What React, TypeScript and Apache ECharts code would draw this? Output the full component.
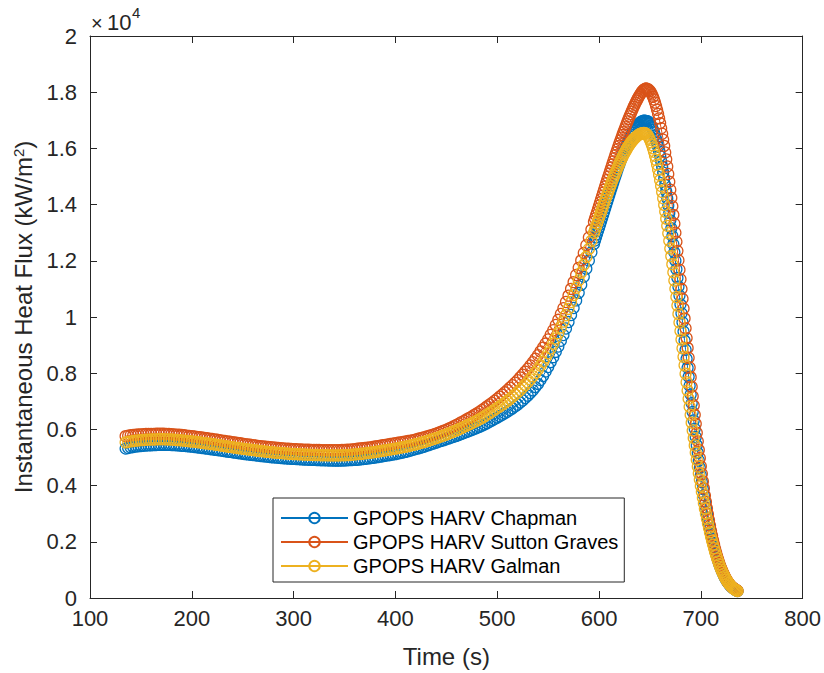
import React, { useEffect, useRef } from "react";
import * as echarts from "echarts";

// Time samples (s): 2.5 s spacing up to 595 s, 1 s spacing afterwards
const timeEarly: number[] = [
  135, 137.5, 140, 142.5, 145, 147.5, 150, 152.5, 155, 157.5,
  160, 162.5, 165, 167.5, 170, 172.5, 175, 177.5, 180, 182.5,
  185, 187.5, 190, 192.5, 195, 197.5, 200, 202.5, 205, 207.5,
  210, 212.5, 215, 217.5, 220, 222.5, 225, 227.5, 230, 232.5,
  235, 237.5, 240, 242.5, 245, 247.5, 250, 252.5, 255, 257.5,
  260, 262.5, 265, 267.5, 270, 272.5, 275, 277.5, 280, 282.5,
  285, 287.5, 290, 292.5, 295, 297.5, 300, 302.5, 305, 307.5,
  310, 312.5, 315, 317.5, 320, 322.5, 325, 327.5, 330, 332.5,
  335, 337.5, 340, 342.5, 345, 347.5, 350, 352.5, 355, 357.5,
  360, 362.5, 365, 367.5, 370, 372.5, 375, 377.5, 380, 382.5,
  385, 387.5, 390, 392.5, 395, 397.5, 400, 402.5, 405, 407.5,
  410, 412.5, 415, 417.5, 420, 422.5, 425, 427.5, 430, 432.5,
  435, 437.5, 440, 442.5, 445, 447.5, 450, 452.5, 455, 457.5,
  460, 462.5, 465, 467.5, 470, 472.5, 475, 477.5, 480, 482.5,
  485, 487.5, 490, 492.5, 495, 497.5, 500, 502.5, 505, 507.5,
  510, 512.5, 515, 517.5, 520, 522.5, 525, 527.5, 530, 532.5,
  535, 537.5, 540, 542.5, 545, 547.5, 550, 552.5, 555, 557.5,
  560, 562.5, 565, 567.5, 570, 572.5, 575, 577.5, 580, 582.5,
  585, 587.5, 590, 592.5, 595,
];
const timeLate: number[] = [
  596, 597, 598, 599, 600, 601, 602, 603, 604, 605,
  606, 607, 608, 609, 610, 611, 612, 613, 614, 615,
  616, 617, 618, 619, 620, 621, 622, 623, 624, 625,
  626, 627, 628, 629, 630, 631, 632, 633, 634, 635,
  636, 637, 638, 639, 640, 641, 642, 643, 644, 645,
  646, 647, 648, 649, 650, 651, 652, 653, 654, 655,
  656, 657, 658, 659, 660, 661, 662, 663, 664, 665,
  666, 667, 668, 669, 670, 671, 672, 673, 674, 675,
  676, 677, 678, 679, 680, 681, 682, 683, 684, 685,
  686, 687, 688, 689, 690, 691, 692, 693, 694, 695,
  696, 697, 698, 699, 700, 701, 702, 703, 704, 705,
  706, 707, 708, 709, 710, 711, 712, 713, 714, 715,
  716, 717, 718, 719, 720, 721, 722, 723, 724, 725,
  726, 727, 728, 729, 730, 731, 732, 733, 734, 735,
  736,
];

// Instantaneous heat flux (kW/m^2), GPOPS HARV Chapman
const chapmanEarly: number[] = [
  5320, 5340, 5360, 5375, 5390, 5400, 5410, 5418, 5425, 5430,
  5435, 5440, 5445, 5448, 5450, 5450, 5450, 5448, 5445, 5440,
  5435, 5428, 5420, 5412, 5405, 5395, 5385, 5375, 5365, 5352,
  5340, 5328, 5315, 5302, 5290, 5278, 5265, 5252, 5240, 5225,
  5210, 5198, 5185, 5172, 5160, 5148, 5135, 5122, 5110, 5100,
  5090, 5078, 5065, 5055, 5045, 5035, 5025, 5015, 5005, 4998,
  4990, 4982, 4975, 4968, 4960, 4955, 4950, 4945, 4940, 4935,
  4930, 4925, 4920, 4918, 4915, 4910, 4905, 4902, 4900, 4898,
  4895, 4892, 4890, 4890, 4890, 4892, 4895, 4900, 4905, 4910,
  4915, 4922, 4930, 4940, 4950, 4962, 4975, 4988, 5000, 5015,
  5030, 5045, 5060, 5075, 5090, 5105, 5120, 5140, 5160, 5180,
  5200, 5225, 5250, 5275, 5300, 5325, 5350, 5380, 5410, 5440,
  5470, 5500, 5530, 5560, 5590, 5620, 5650, 5680, 5710, 5740,
  5770, 5805, 5840, 5875, 5910, 5945, 5980, 6015, 6050, 6090,
  6130, 6175, 6220, 6270, 6320, 6370, 6420, 6470, 6520, 6575,
  6630, 6690, 6750, 6815, 6880, 6955, 7030, 7115, 7200, 7295,
  7390, 7505, 7620, 7760, 7900, 8060, 8220, 8395, 8570, 8760,
  8950, 9155, 9360, 9590, 9820, 10070, 10320, 10590, 10860, 11145,
  11430, 11720, 12010, 12305, 12600,
];
const chapmanLate: number[] = [
  12720, 12835, 12950, 13065, 13180, 13295, 13410, 13525, 13640, 13755,
  13870, 13985, 14100, 14215, 14330, 14445, 14560, 14675, 14790, 14900,
  15010, 15120, 15230, 15335, 15440, 15540, 15640, 15735, 15830, 15920,
  16010, 16095, 16180, 16260, 16340, 16415, 16490, 16555, 16620, 16680,
  16740, 16790, 16840, 16875, 16910, 16935, 16960, 16975, 16985, 16985,
  16980, 16970, 16960, 16920, 16880, 16815, 16750, 16660, 16570, 16455,
  16340, 16200, 16060, 15895, 15730, 15540, 15350, 15140, 14930, 14700,
  14470, 14220, 13970, 13705, 13440, 13160, 12880, 12590, 12300, 12000,
  11700, 11390, 11080, 10765, 10450, 10130, 9810, 9485, 9160, 8835,
  8510, 8190, 7870, 7555, 7240, 6930, 6620, 6320, 6020, 5730,
  5440, 5165, 4890, 4630, 4370, 4125, 3880, 3655, 3430, 3220,
  3010, 2820, 2630, 2455, 2280, 2120, 1960, 1820, 1680, 1555,
  1430, 1320, 1210, 1115, 1020, 935, 850, 775, 700, 640,
  580, 530, 480, 440, 400, 370, 340, 315, 290, 270,
  250,
];

// GPOPS HARV Sutton Graves
const suttonGravesEarly: number[] = [
  5760, 5775, 5790, 5800, 5810, 5818, 5825, 5830, 5835, 5838,
  5840, 5842, 5845, 5845, 5845, 5843, 5840, 5835, 5830, 5822,
  5815, 5808, 5800, 5790, 5780, 5770, 5760, 5748, 5735, 5722,
  5710, 5698, 5685, 5672, 5660, 5645, 5630, 5615, 5600, 5588,
  5575, 5560, 5545, 5532, 5520, 5505, 5490, 5478, 5465, 5452,
  5440, 5428, 5415, 5405, 5395, 5385, 5375, 5365, 5355, 5348,
  5340, 5332, 5325, 5318, 5310, 5305, 5300, 5295, 5290, 5285,
  5280, 5278, 5275, 5272, 5270, 5268, 5265, 5262, 5260, 5260,
  5260, 5260, 5260, 5260, 5260, 5265, 5270, 5275, 5280, 5290,
  5300, 5310, 5320, 5330, 5340, 5350, 5360, 5375, 5390, 5405,
  5420, 5435, 5450, 5465, 5480, 5495, 5510, 5525, 5540, 5555,
  5570, 5585, 5600, 5620, 5640, 5665, 5690, 5715, 5740, 5765,
  5790, 5820, 5850, 5885, 5920, 5955, 5990, 6030, 6070, 6115,
  6160, 6210, 6260, 6310, 6360, 6410, 6460, 6515, 6570, 6630,
  6690, 6755, 6820, 6885, 6950, 7020, 7090, 7165, 7240, 7320,
  7400, 7485, 7570, 7660, 7750, 7850, 7950, 8055, 8160, 8275,
  8390, 8515, 8640, 8775, 8910, 9055, 9200, 9365, 9530, 9715,
  9900, 10105, 10310, 10535, 10760, 11000, 11240, 11495, 11750, 12015,
  12280, 12555, 12830, 13110, 13390,
];
const suttonGravesLate: number[] = [
  13505, 13620, 13730, 13845, 13960, 14075, 14190, 14305, 14420, 14535,
  14650, 14765, 14880, 14990, 15100, 15210, 15320, 15430, 15540, 15650,
  15760, 15865, 15970, 16075, 16180, 16280, 16380, 16480, 16580, 16675,
  16770, 16865, 16960, 17050, 17140, 17225, 17310, 17395, 17480, 17555,
  17630, 17700, 17770, 17835, 17900, 17955, 18010, 18050, 18090, 18115,
  18130, 18125, 18110, 18080, 18040, 17985, 17920, 17835, 17740, 17630,
  17510, 17375, 17230, 17070, 16900, 16715, 16520, 16310, 16090, 15855,
  15610, 15355, 15090, 14815, 14530, 14240, 13940, 13635, 13320, 13000,
  12680, 12350, 12020, 11680, 11340, 10995, 10650, 10300, 9950, 9600,
  9250, 8900, 8550, 8205, 7860, 7520, 7180, 6850, 6520, 6200,
  5880, 5575, 5270, 4980, 4690, 4420, 4150, 3900, 3650, 3420,
  3190, 2980, 2770, 2580, 2390, 2220, 2050, 1900, 1750, 1615,
  1480, 1365, 1250, 1150, 1050, 965, 880, 805, 730, 665,
  600, 550, 500, 455, 410, 380, 350, 325, 300, 280,
  260,
];

// GPOPS HARV Galman
const galmanEarly: number[] = [
  5540, 5558, 5575, 5588, 5600, 5610, 5620, 5625, 5630, 5635,
  5640, 5642, 5645, 5648, 5650, 5648, 5645, 5642, 5640, 5632,
  5625, 5618, 5610, 5600, 5590, 5580, 5570, 5560, 5550, 5538,
  5525, 5512, 5500, 5488, 5475, 5462, 5450, 5435, 5420, 5405,
  5390, 5378, 5365, 5352, 5340, 5325, 5310, 5300, 5290, 5278,
  5265, 5252, 5240, 5230, 5220, 5210, 5200, 5190, 5180, 5172,
  5165, 5158, 5150, 5142, 5135, 5130, 5125, 5120, 5115, 5110,
  5105, 5102, 5100, 5095, 5090, 5088, 5085, 5082, 5080, 5078,
  5075, 5075, 5075, 5075, 5075, 5078, 5080, 5085, 5090, 5100,
  5110, 5118, 5125, 5135, 5145, 5158, 5170, 5182, 5195, 5210,
  5225, 5240, 5255, 5270, 5285, 5300, 5315, 5332, 5350, 5368,
  5385, 5405, 5425, 5448, 5470, 5495, 5520, 5548, 5575, 5602,
  5630, 5660, 5690, 5722, 5755, 5788, 5820, 5855, 5890, 5928,
  5965, 6008, 6050, 6092, 6135, 6178, 6220, 6265, 6310, 6360,
  6410, 6465, 6520, 6578, 6635, 6698, 6760, 6820, 6880, 6948,
  7015, 7088, 7160, 7238, 7315, 7402, 7490, 7585, 7680, 7785,
  7890, 8010, 8130, 8268, 8405, 8558, 8710, 8880, 9050, 9238,
  9425, 9630, 9835, 10062, 10290, 10535, 10780, 11042, 11305, 11580,
  11855, 12138, 12420, 12708, 12995,
];
const galmanLate: number[] = [
  13105, 13215, 13320, 13425, 13530, 13635, 13740, 13845, 13950, 14055,
  14160, 14260, 14360, 14460, 14560, 14655, 14750, 14845, 14940, 15030,
  15120, 15205, 15290, 15375, 15460, 15540, 15620, 15695, 15770, 15835,
  15900, 15965, 16030, 16085, 16140, 16190, 16240, 16285, 16330, 16365,
  16400, 16430, 16460, 16485, 16510, 16525, 16540, 16545, 16550, 16545,
  16530, 16495, 16450, 16385, 16310, 16220, 16120, 16005, 15880, 15740,
  15590, 15425, 15250, 15065, 14870, 14665, 14450, 14225, 13990, 13750,
  13500, 13245, 12980, 12715, 12440, 12165, 11880, 11595, 11300, 11005,
  10710, 10410, 10110, 9805, 9500, 9195, 8890, 8585, 8280, 7980,
  7680, 7385, 7090, 6805, 6520, 6240, 5960, 5695, 5430, 5175,
  4920, 4680, 4440, 4215, 3990, 3780, 3570, 3375, 3180, 3000,
  2820, 2655, 2490, 2335, 2180, 2040, 1900, 1770, 1640, 1525,
  1410, 1305, 1200, 1105, 1010, 930, 850, 780, 710, 650,
  590, 540, 490, 450, 410, 375, 340, 315, 290, 270,
  250,
];

const seriesNames: string[] = ["GPOPS HARV Chapman", "GPOPS HARV Sutton Graves", "GPOPS HARV Galman"];
const seriesColors: string[] = ["#0072BD", "#D95319", "#EDB120"];

const xTitle = "Time (s)";
const yTitleRich = "{a|Instantaneous Heat Flux (kW/m}{s|2}{a|)}";

export default function App() {
  const ref = useRef<HTMLDivElement>(null);

  useEffect(() => {
    document.body.style.margin = "0";
    const chart = echarts.init(ref.current as HTMLDivElement, null, { renderer: "svg" });
    const font = "'Liberation Sans', Arial, Helvetica, sans-serif";
    const ink = "#262626";
    const time = timeEarly.concat(timeLate);
    const allValues = [
      chapmanEarly.concat(chapmanLate),
      suttonGravesEarly.concat(suttonGravesLate),
      galmanEarly.concat(galmanLate),
    ];

    const series = allValues.map((vals, i) => ({
      type: "line",
      name: seriesNames[i],
      data: time.map((t, k) => [t, vals[k]]),
      symbol: "circle",
      symbolSize: 11,
      showSymbol: true,
      showAllSymbol: true,
      lineStyle: { color: seriesColors[i], width: 1 },
      itemStyle: { color: "rgba(255,255,255,0)", borderColor: seriesColors[i], borderWidth: 1.25 },
      emphasis: { disabled: true },
      silent: true,
      xAxisIndex: 0,
      yAxisIndex: 0,
    }));

    const axisBase = {
      type: "value",
      axisLine: { show: true, onZero: false, lineStyle: { color: ink, width: 1 } },
      axisTick: { show: true, inside: true, length: 7, lineStyle: { color: ink, width: 1 } },
      splitLine: { show: false },
    };

    chart.setOption({
      animation: false,
      backgroundColor: "#ffffff",
      textStyle: { fontFamily: font },
      grid: { left: 90, right: 21, top: 36, bottom: 73, containLabel: false },
      xAxis: [
        {
          ...axisBase,
          position: "bottom",
          min: 100,
          max: 800,
          interval: 100,
          name: xTitle,
          nameLocation: "middle",
          nameGap: 46,
          nameTextStyle: { fontSize: 24, color: ink, fontFamily: font },
          axisLabel: { show: true, fontSize: 22, color: ink, margin: 9, fontFamily: font },
        },
        {
          ...axisBase,
          position: "top",
          min: 100,
          max: 800,
          interval: 100,
          axisLabel: { show: false },
        },
      ],
      yAxis: [
        {
          ...axisBase,
          position: "left",
          min: 0,
          max: 20000,
          interval: 2000,
          name: yTitleRich,
          nameLocation: "middle",
          nameGap: 48,
          nameTextStyle: {
            fontSize: 24,
            color: ink,
            fontFamily: font,
            rich: {
              a: { fontSize: 24, color: ink, fontFamily: font, lineHeight: 26 },
              s: { fontSize: 15, color: ink, fontFamily: font, verticalAlign: "top", lineHeight: 26, padding: [0, 0, 10, 0] },
            },
          },
          axisLabel: {
            show: true,
            fontSize: 22,
            color: ink,
            margin: 13,
            fontFamily: font,
            formatter: (v: number) => String(Math.round(v / 1000) / 10),
          },
        },
        {
          ...axisBase,
          position: "right",
          min: 0,
          max: 20000,
          interval: 2000,
          axisLabel: { show: false },
        },
      ],
      legend: {
        show: true,
        orient: "vertical",
        left: 273,
        top: 498,
        padding: [10, 6, 6, 7],
        itemGap: 4,
        itemWidth: 67,
        itemHeight: 13,
        backgroundColor: "#ffffff",
        borderColor: ink,
        borderWidth: 1,
        borderRadius: 0,
        textStyle: { fontSize: 20, color: "#000000", fontFamily: font, lineHeight: 20 },
        data: seriesNames,
      },
      graphic: [
        {
          type: "text",
          left: 91,
          top: 13,
          style: { text: "×", fontSize: 20, fill: ink, fontFamily: font },
        },
        {
          type: "text",
          left: 107,
          top: 11,
          style: { text: "10", fontSize: 22, fill: ink, fontFamily: font },
        },
        {
          type: "text",
          left: 132,
          top: 5,
          style: { text: "4", fontSize: 15, fill: ink, fontFamily: font },
        },
      ],
      series,
    });

    return () => {
      chart.dispose();
    };
  }, []);

  return <div ref={ref} style={{ width: 824, height: 673 }} />;
}
